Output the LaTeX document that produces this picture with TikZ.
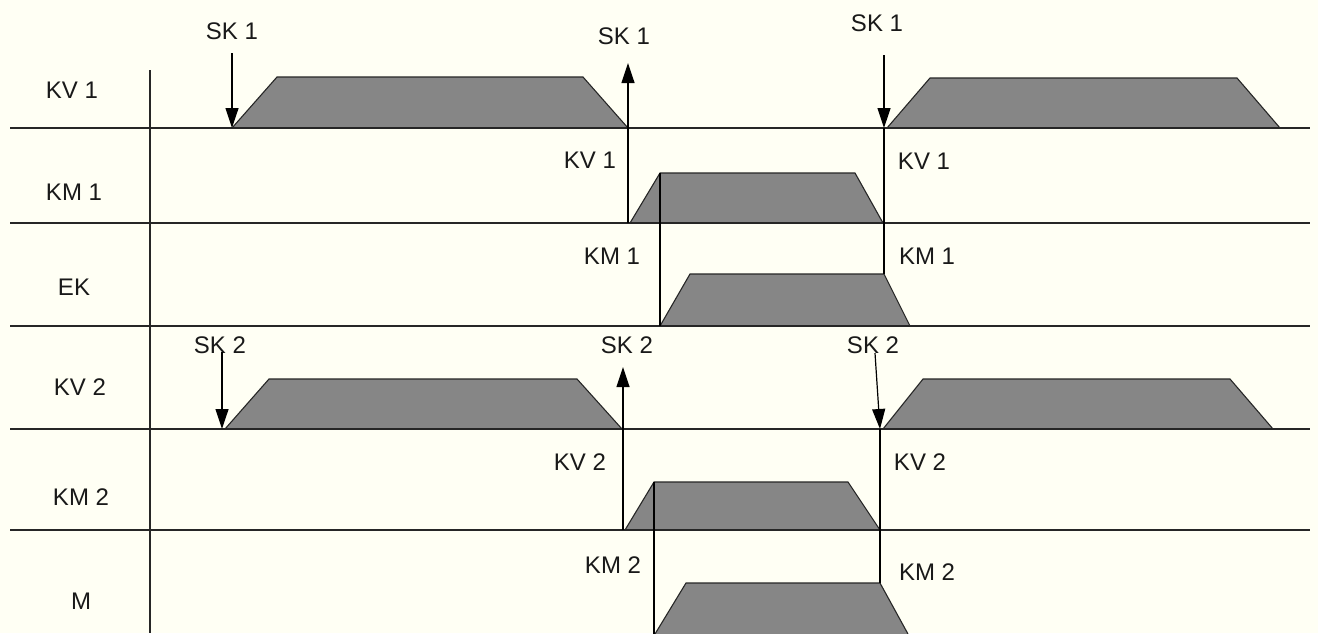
\documentclass[tikz,border=0pt]{standalone}
\usepackage{fontspec}
\setmainfont{Liberation Sans}
\usetikzlibrary{arrows.meta}
\definecolor{bgcream}{RGB}{255,255,244}
\definecolor{pulsegray}{RGB}{134,134,134}
\tikzset{
  lbl/.style={inner sep=0pt, font=\fontsize{24}{28}\selectfont, text=black!90},
  axis/.style={line width=1.4pt, black!85},
  pulse/.style={fill=pulsegray, draw=black!85, line width=1.1pt, line join=miter},
  sig/.style={line width=1.2pt, black},
  sigarrow/.style={sig, -{Triangle[length=20pt,width=13pt]}},
}
\begin{document}
\begin{tikzpicture}[x=1pt,y=-1pt]
\fill[bgcream] (0,0) rectangle (1318,633);
\useasboundingbox (0,0) rectangle (1318,633);
\begin{scope}
\clip (0,0) rectangle (1318,633);

% pulses
\filldraw[pulse] (232,128) -- (277,77) -- (583,77) -- (628,128);
\filldraw[pulse] (887,128) -- (930,78) -- (1237,78) -- (1280,128);
\filldraw[pulse] (630,223) -- (660,173) -- (855,173) -- (883,223);
\filldraw[pulse] (660,326) -- (690,274) -- (884,274) -- (910,326);
\filldraw[pulse] (225,429) -- (269,379) -- (577,379) -- (622,429);
\filldraw[pulse] (883,429) -- (923,379) -- (1230,379) -- (1273,429);
\filldraw[pulse] (625,530) -- (654,482) -- (848,482) -- (880,530);
\filldraw[pulse] (655,634) -- (686,583) -- (880,583) -- (908,634);

% axes
\coordinate (axT) at (150,70);
\coordinate (axB) at (150,633);
\draw[axis] (axT) -- (axB);
\foreach \yy/\nm in {128/a,223/b,326/c,429/d,530/e}{
  \coordinate (hl\nm) at (10,\yy);
  \coordinate (hr\nm) at (1310,\yy);
  \draw[axis] (hl\nm) -- (hr\nm);
}

% row labels
\node[lbl] (rKV1) at (72,90) {KV 1};
\node[lbl] (rKM1) at (74,192) {KM 1};
\node[lbl] (rEK)  at (74,287) {EK};
\node[lbl] (rKV2) at (80,387) {KV 2};
\node[lbl] (rKM2) at (81,497) {KM 2};
\node[lbl] (rM)   at (81,601) {M};

% event labels
\node[lbl] (sk1a) at (232,31) {SK 1};
\node[lbl] (sk1b) at (624,36) {SK 1};
\node[lbl] (sk1c) at (877,23) {SK 1};
\node[lbl] (kv1a) at (590,160) {KV 1};
\node[lbl] (kv1b) at (924,161) {KV 1};
\node[lbl] (km1a) at (612,256) {KM 1};
\node[lbl] (km1b) at (927,256) {KM 1};
\node[lbl] (sk2a) at (220,345) {SK 2};
\node[lbl] (sk2b) at (627,345) {SK 2};
\node[lbl] (sk2c) at (873,345) {SK 2};
\node[lbl] (kv2a) at (580,462) {KV 2};
\node[lbl] (kv2b) at (920,462) {KV 2};
\node[lbl] (km2a) at (613,565) {KM 2};
\node[lbl] (km2b) at (927,572) {KM 2};

% connector points
\coordinate (a1s) at (232,53);
\coordinate (a1e) at (232,128);
\coordinate (a2s) at (628,223);
\coordinate (a2e) at (628,63);
\coordinate (a3s) at (884,55);
\coordinate (a3e) at (884,128);
\coordinate (a3f) at (884,274);
\coordinate (v1s) at (660,173);
\coordinate (v1e) at (660,326);
\coordinate (b1s) at (222,352);
\coordinate (b1e) at (222,429);
\coordinate (b2s) at (623,530);
\coordinate (b2e) at (623,367);
\coordinate (b3s) at (875,353);
\coordinate (b3e) at (880,429);
\coordinate (b3f) at (880,583);
\coordinate (v2s) at (654,482);
\coordinate (v2e) at (654,634);

% connectors
\draw[sigarrow] (a1s) -- (a1e);
\draw[sigarrow] (a2s) -- (a2e);
\draw[sigarrow] (a3s) -- (a3e);
\draw[sig] (a3e) -- (a3f);
\draw[sig] (v1s) -- (v1e);
\draw[sigarrow] (b1s) -- (b1e);
\draw[sigarrow] (b2s) -- (b2e);
\draw[sigarrow] (b3s) -- (b3e);
\draw[sig] (b3e) -- (b3f);
\draw[sig] (v2s) -- (v2e);
\end{scope}
\end{tikzpicture}
\end{document}
